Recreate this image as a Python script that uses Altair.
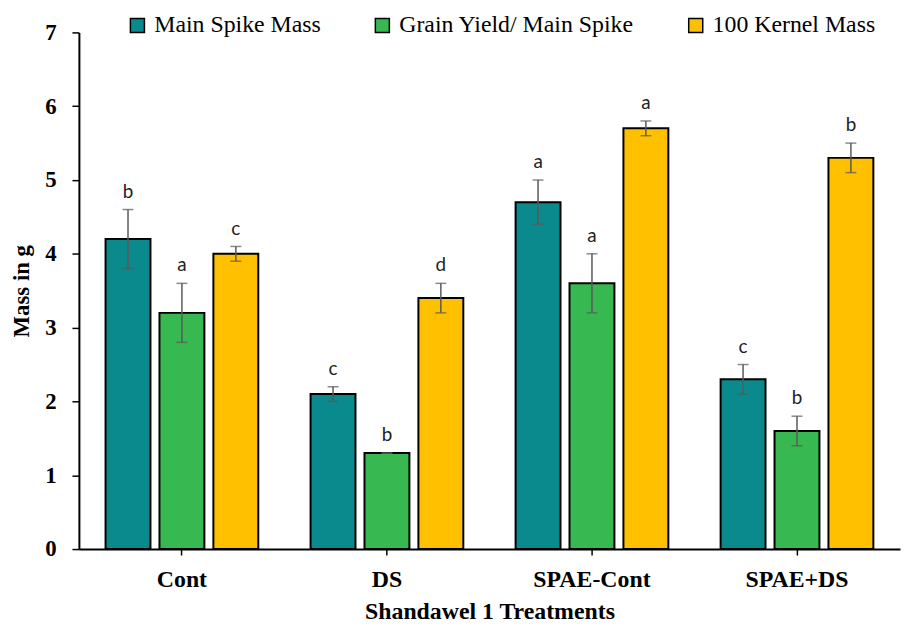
import altair as alt
import pandas as pd

treatments = ["Cont", "DS", "SPAE-Cont", "SPAE+DS"]
series = ["Main Spike Mass", "Grain Yield/ Main Spike", "100 Kernel Mass"]
colors = ["#0a8a8c", "#38b850", "#FFC000"]

main_spike = [4.2, 2.1, 4.7, 2.3]
main_spike_err = [0.4, 0.1, 0.3, 0.2]
main_spike_let = ["b", "c", "a", "c"]

grain_yield = [3.2, 1.3, 3.6, 1.6]
grain_yield_err = [0.4, 0.0, 0.4, 0.2]
grain_yield_let = ["a", "b", "a", "b"]

kernel_mass = [4.0, 3.4, 5.7, 5.3]
kernel_mass_err = [0.1, 0.2, 0.1, 0.2]
kernel_mass_let = ["c", "d", "a", "b"]

rows = []
for s, vals, errs, lets in [
    (series[0], main_spike, main_spike_err, main_spike_let),
    (series[1], grain_yield, grain_yield_err, grain_yield_let),
    (series[2], kernel_mass, kernel_mass_err, kernel_mass_let),
]:
    for t, v, e, l in zip(treatments, vals, errs, lets):
        rows.append({"treatment": t, "series": s, "value": v,
                     "lo": v - e, "hi": v + e, "letter": l})
df = pd.DataFrame(rows)

serif = "Liberation Serif"

x = alt.X("treatment:N", sort=treatments,
          scale=alt.Scale(paddingInner=0.255, paddingOuter=0.13),
          axis=alt.Axis(title="Shandawel 1 Treatments", labelAngle=0,
                        labelFont=serif, labelFontSize=24, labelFontWeight="bold",
                        labelColor="black", labelPadding=13,
                        titleFont=serif, titleFontSize=24, titleFontWeight="bold",
                        titleColor="black", titlePadding=8,
                        domainColor="black", domainWidth=2,
                        tickColor="black", tickSize=6, tickWidth=1.5))
xo = alt.XOffset("series:N", sort=series,
                 scale=alt.Scale(paddingInner=0.167, paddingOuter=0))

yscale = alt.Scale(domain=[0, 7], nice=False)

base = alt.Chart(df)

bars = base.mark_bar(stroke="black", strokeWidth=2).encode(
    x=x, xOffset=xo,
    y=alt.Y("value:Q", scale=yscale,
            axis=alt.Axis(title="Mass in g", values=[0, 1, 2, 3, 4, 5, 6, 7],
                          format="d", grid=False,
                          labelFont=serif, labelFontSize=23,
                          labelFontWeight="bold", labelColor="black",
                          labelPadding=16,
                          titleFont=serif, titleFontSize=23,
                          titleFontWeight="bold", titleColor="black",
                          titlePadding=11,
                          domainColor="black", domainWidth=2,
                          tickColor="black", tickSize=7, tickWidth=1.5)),
    fill=alt.Fill("series:N", sort=series,
                  scale=alt.Scale(domain=series, range=colors),
                  legend=alt.Legend(title=None, orient="none", legendX=47,
                                    legendY=-19, direction="horizontal",
                                    columns=3, symbolType="square",
                                    symbolSize=200, symbolStrokeColor="black",
                                    symbolStrokeWidth=1.5, symbolOpacity=1,
                                    labelFont=serif, labelFontSize=24,
                                    labelColor="black", labelOffset=5,
                                    columnPadding=50, labelLimit=400)),
)

err_color = "#595959"
rules = base.mark_rule(color=err_color, strokeWidth=1.5).encode(
    x=x, xOffset=xo, y=alt.Y("lo:Q", scale=yscale), y2="hi:Q")
caps_hi = base.mark_tick(color=err_color, size=11, thickness=1.5,
                         orient="horizontal").encode(
    x=x, xOffset=xo, y=alt.Y("hi:Q", scale=yscale))
caps_lo = base.mark_tick(color=err_color, size=11, thickness=1.5,
                         orient="horizontal").encode(
    x=x, xOffset=xo, y=alt.Y("lo:Q", scale=yscale))
letters = base.mark_text(font="Lato", fontSize=19, color="#222222",
                         baseline="middle", dy=-18).encode(
    x=x, xOffset=xo, y=alt.Y("hi:Q", scale=yscale), text="letter:N")

chart = alt.layer(bars, rules, caps_hi, caps_lo, letters).properties(
    width=828, height=521,
    autosize=alt.AutoSizeParams(type="none"),
    padding={"left": 71.5, "top": 22, "right": 1, "bottom": 77},
).configure_view(stroke=None)

chart.save("out.html", embed_options={"renderer": "svg", "actions": False})
